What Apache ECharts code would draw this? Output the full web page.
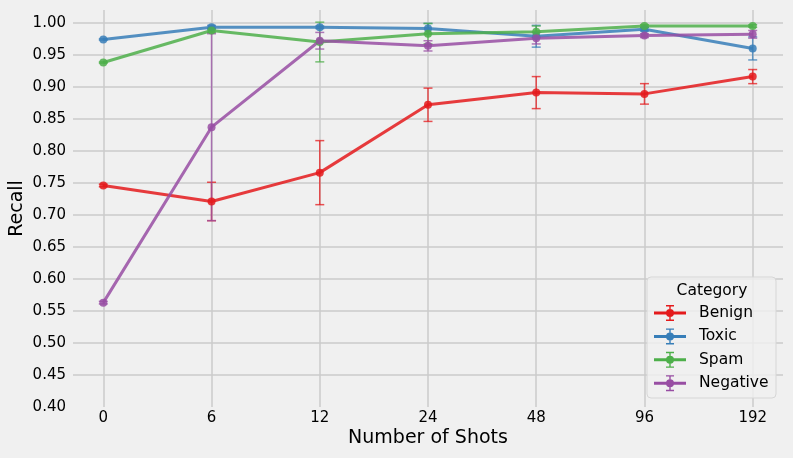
<!DOCTYPE html>
<html>
<head>
<meta charset="utf-8">
<script src="https://cdn.jsdelivr.net/npm/echarts@6/dist/echarts.min.js"></script>
<style>
  html, body { margin: 0; padding: 0; background: #f0f0f0; }
  #chart { width: 793px; height: 458px; }
</style>
</head>
<body>
<div id="chart"></div>
<script>
// shots on the x axis
var shots = ['0', '6', '12', '24', '48', '96', '192'];
var categories = ['Benign', 'Toxic', 'Spam', 'Negative'];

// recall means and error half-widths
var benign      = [0.746, 0.721, 0.766, 0.872, 0.891, 0.889, 0.916];
var benignErr   = [0.002, 0.030, 0.050, 0.026, 0.025, 0.016, 0.011];
var toxic       = [0.974, 0.993, 0.993, 0.991, 0.979, 0.990, 0.960];
var toxicErr    = [0.001, 0.003, 0.002, 0.008, 0.017, 0.003, 0.018];
var spam        = [0.938, 0.988, 0.970, 0.983, 0.986, 0.995, 0.995];
var spamErr     = [0.001, 0.003, 0.031, 0.016, 0.009, 0.002, 0.002];
var negative    = [0.563, 0.837, 0.972, 0.964, 0.976, 0.980, 0.982];
var negativeErr = [0.002, 0.146, 0.013, 0.008, 0.009, 0.003, 0.006];

var yTicks = ['0.40', '0.45', '0.50', '0.55', '0.60', '0.65', '0.70', '0.75', '0.80', '0.85', '0.90', '0.95', '1.00'];

var colors = ['#e41a1c', '#377eb8', '#4daf4a', '#984ea3'];
var font = 'DejaVu Sans';

// legend icon: line + marker + error bar
var iconPath = 'path://M0,6.5H32V9.5H0Z M20,8A4,4 0 1,1 12,8A4,4 0 1,1 20,8Z M15.3,0H16.7V16H15.3Z M12,0H20V1.4H12Z M12,14.6H20V16H12Z';

function errorSeries(name, color, vals, errs) {
    return {
        type: 'custom',
        name: name,
        data: vals.map(function (v, i) { return [i, v - errs[i], v + errs[i]]; }),
        encode: { x: 0, y: [1, 2] },
        renderItem: function (params, api) {
            var x = api.value(0);
            var lo = api.coord([x, api.value(1)]);
            var hi = api.coord([x, api.value(2)]);
            var w = 4.5;
            var st = { stroke: color, lineWidth: 1.5, opacity: 0.75 };
            return {
                type: 'group',
                children: [
                    { type: 'line', shape: { x1: lo[0], y1: lo[1], x2: hi[0], y2: hi[1] }, style: st },
                    { type: 'line', shape: { x1: lo[0] - w, y1: lo[1], x2: lo[0] + w, y2: lo[1] }, style: st },
                    { type: 'line', shape: { x1: hi[0] - w, y1: hi[1], x2: hi[0] + w, y2: hi[1] }, style: st }
                ]
            };
        }
    };
}

function lineSeries(name, color, vals) {
    return {
        type: 'line',
        name: name,
        data: vals.map(function (v, i) { return [i, v]; }),
        symbol: 'circle',
        symbolSize: 8,
        clip: false,
        lineStyle: { color: color, width: 3, opacity: 0.85 },
        itemStyle: { color: color, opacity: 0.85 }
    };
}

var allVals = [benign, toxic, spam, negative];
var allErrs = [benignErr, toxicErr, spamErr, negativeErr];
var series = [];
for (var i = 0; i < categories.length; i++) {
    series.push(errorSeries(categories[i], colors[i], allVals[i], allErrs[i]));
    series.push(lineSeries(categories[i], colors[i], allVals[i]));
}

var myChart = echarts.init(document.getElementById('chart'));
var option = {
    animation: false,
    backgroundColor: '#f0f0f0',
    color: colors,
    grid: { left: 73, right: 10, top: 10, bottom: 51, containLabel: false, outerBoundsMode: 'none' },
    xAxis: {
        type: 'value',
        min: -0.28,
        max: 6.28,
        minInterval: 1,
        maxInterval: 1,
        name: 'Number of Shots',
        nameLocation: 'middle',
        nameGap: 22,
        nameMoveOverlap: false,
        nameTextStyle: { fontFamily: font, fontSize: 19, color: '#000' },
        axisLine: { show: false },
        axisTick: { show: false },
        axisLabel: {
            margin: 4,
            fontFamily: font, fontSize: 15, color: '#000',
            formatter: function (v) {
                return Number.isInteger(v) && shots[v] !== undefined ? shots[v] : '';
            }
        },
        splitLine: { show: true, showMinLine: false, showMaxLine: false, lineStyle: { color: '#cbcbcb', width: 1.5 } }
    },
    yAxis: {
        type: 'value',
        min: 0.40,
        max: 1.02,
        interval: 0.05,
        name: 'Recall',
        nameLocation: 'middle',
        nameGap: 46,
        nameMoveOverlap: false,
        nameTextStyle: { fontFamily: font, fontSize: 19, color: '#000' },
        axisLine: { show: false },
        axisTick: { show: false },
        axisLabel: {
            margin: 7,
            fontFamily: font, fontSize: 15, color: '#000',
            showMaxLabel: false,
            formatter: function (v) {
                var idx = Math.round((v - 0.40) / 0.05);
                if (Math.abs(v - (0.40 + idx * 0.05)) > 1e-6) return '';
                return yTicks[idx] !== undefined ? yTicks[idx] : '';
            }
        },
        splitLine: { show: true, showMinLine: false, showMaxLine: false, lineStyle: { color: '#cbcbcb', width: 1.5 } }
    },
    legend: {
        data: categories.map(function (c) { return { name: c, icon: iconPath }; }),
        orient: 'vertical',
        left: 654,
        top: 305,
        padding: 0,
        itemWidth: 32,
        itemHeight: 16,
        itemGap: 7.4,
        z: 20,
        textStyle: { fontFamily: font, fontSize: 15.5, color: '#000', padding: [0, 0, 0, 8] }
    },
    graphic: [
        {
            type: 'rect',
            z: 10,
            shape: { x: 647, y: 277, width: 129, height: 121, r: 4 },
            style: { fill: 'rgba(240,240,240,0.8)', stroke: '#d6d6d6', lineWidth: 1 }
        },
        {
            type: 'text',
            z: 11,
            x: 712,
            y: 291,
            style: { text: 'Category', fontFamily: font, fontSize: 15.5, fill: '#000', textAlign: 'center', textVerticalAlign: 'middle' }
        }
    ],
    series: series
};
myChart.setOption(option);
</script>
</body>
</html>
